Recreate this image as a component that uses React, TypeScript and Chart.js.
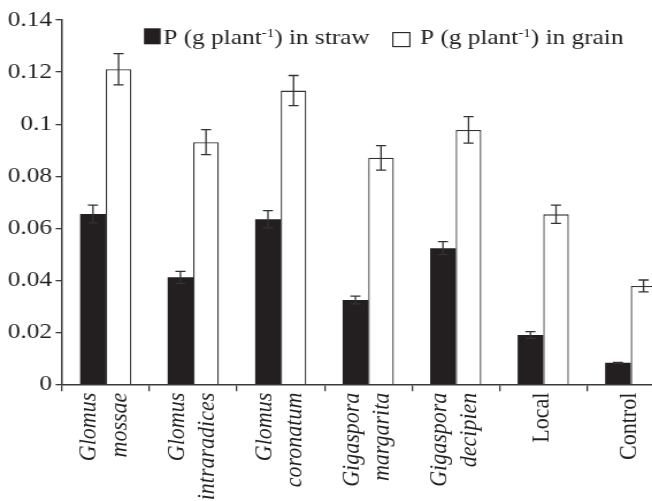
import React, { useEffect, useRef } from "react";
import { Chart, registerables } from "chart.js";

Chart.register(...registerables);

// ---- data ----
const genus = ["Glomus", "Glomus", "Glomus", "Gigaspora", "Gigaspora", "", ""];
const species = ["mossae", "intraradices", "coronatum", "margarita", "decipien", "Local", "Control"];
const seriesLabels = ["P (g plant^-1) in straw", "P (g plant^-1) in grain"];
const straw = [0.0655, 0.0412, 0.0635, 0.0325, 0.0524, 0.0191, 0.0084];
const strawErr = [0.0034, 0.0023, 0.0033, 0.0015, 0.0025, 0.0013, 0.0002];
const grain = [0.1211, 0.0931, 0.1129, 0.0871, 0.0978, 0.0654, 0.0379];
const grainErr = [0.006, 0.0048, 0.0058, 0.0047, 0.0051, 0.0035, 0.0023];
const yTickLabels = ["0", "0.02", "0.04", "0.06", "0.08", "0.1", "0.12", "0.14"];

const SERIF = '"Liberation Serif", "Times New Roman", serif';
const TEXT = "#231f20";
const AXIS = "#3a3a3a";
const errors = [strawErr, grainErr];

const categoryLabels = species.map((s, i) => (genus[i] ? [genus[i], "", s] : ["", s]));

const errorBarPlugin = {
  id: "errorBars",
  afterDatasetsDraw(chart: any) {
    const ctx = chart.ctx;
    const yScale = chart.scales.y;
    ctx.save();
    ctx.strokeStyle = "#333";
    ctx.lineWidth = 1.3;
    chart.data.datasets.forEach((ds: any, di: number) => {
      const meta = chart.getDatasetMeta(di);
      meta.data.forEach((el: any, j: number) => {
        const v = ds.data[j];
        const e = errors[di][j];
        const yt = yScale.getPixelForValue(v + e);
        const yb = yScale.getPixelForValue(v - e);
        const x = el.x;
        const cap = 4.4;
        ctx.beginPath();
        ctx.moveTo(x, yt);
        ctx.lineTo(x, yb);
        ctx.moveTo(x - cap, yt);
        ctx.lineTo(x + cap, yt);
        ctx.moveTo(x - cap, yb);
        ctx.lineTo(x + cap, yb);
        ctx.stroke();
      });
    });
    ctx.restore();
  },
};

const legendPlugin = {
  id: "customLegend",
  afterDraw(chart: any) {
    const ctx = chart.ctx;
    ctx.save();
    ctx.fillStyle = TEXT;
    ctx.strokeStyle = TEXT;
    ctx.textAlign = "left";
    ctx.textBaseline = "alphabetic";
    let x = 125.2;
    const baseline = 44.3;
    chart.data.datasets.forEach((ds: any, i: number) => {
      if (i === 0) {
        ctx.fillRect(x, 28.3, 14.5, 16);
        x += 14.5 + 2.3;
      } else {
        ctx.lineWidth = 1.1;
        ctx.strokeRect(x + 0.5, 32.6, 14.8, 14);
        x += 15.7 + 8.4;
      }
      const [a, b] = String(ds.label).split("^-1");
      ctx.font = `22px ${SERIF}`;
      ctx.fillText(a, x, baseline);
      x += ctx.measureText(a).width;
      ctx.font = `13px ${SERIF}`;
      ctx.fillText("-1", x, baseline - 7.5);
      x += ctx.measureText("-1").width;
      ctx.font = `22px ${SERIF}`;
      ctx.fillText(b, x, baseline);
      x += ctx.measureText(b).width;
      x += 19.6;
    });
    ctx.restore();
  },
};

export default function App() {
  const ref = useRef<HTMLCanvasElement | null>(null);

  useEffect(() => {
    if (!ref.current) return;
    const chart = new Chart(ref.current, {
      type: "bar",
      data: {
        labels: categoryLabels,
        datasets: [
          {
            label: seriesLabels[0],
            data: straw,
            backgroundColor: "#231f20",
            borderWidth: 0,
            categoryPercentage: 0.585,
            barPercentage: 1.0,
          },
          {
            label: seriesLabels[1],
            data: grain,
            backgroundColor: "#ffffff",
            borderColor: "#333333",
            borderWidth: 1.3,
            categoryPercentage: 0.585,
            barPercentage: 1.0,
          },
        ],
      },
      options: {
        animation: false,
        responsive: true,
        maintainAspectRatio: false,
        layout: { padding: { left: 6, top: 20, right: 13.5, bottom: 0 } },
        plugins: {
          legend: { display: false },
          tooltip: { enabled: false },
        },
        scales: {
          x: {
            offset: true,
            grid: {
              display: true,
              drawOnChartArea: false,
              drawTicks: true,
              tickLength: 6.5,
              offset: true,
              color: AXIS,
              lineWidth: 1.3,
            },
            border: { display: true, color: AXIS, width: 1.5 },
            ticks: {
              autoSkip: false,
              minRotation: 90,
              maxRotation: 90,
              padding: 1.5,
              labelOffset: -14.3,
              color: TEXT,
              font: (c: any) => ({
                family: SERIF,
                size: 22,
                style: genus[c.index] ? "italic" : "normal",
                lineHeight: "13.25px",
              }),
            },
            afterFit: (s: any) => {
              s.height = 116.3;
            },
          },
          y: {
            min: 0,
            max: 0.14,
            grid: {
              drawOnChartArea: false,
              drawTicks: true,
              tickLength: 5.5,
              color: AXIS,
              lineWidth: 1.3,
            },
            border: { display: true, color: AXIS, width: 1.5 },
            ticks: {
              stepSize: 0.02,
              padding: 3.2,
              color: TEXT,
              font: { family: SERIF, size: 22 },
              callback: (_v: any, i: number) => yTickLabels[i],
            },
            afterFit: (s: any) => {
              s.width = 47.9;
            },
          },
        },
      },
      plugins: [errorBarPlugin, legendPlugin],
    });
    return () => chart.destroy();
  }, []);

  return (
    <div
      style={{
        position: "fixed",
        left: 0,
        top: 0,
        width: 652,
        height: 501,
        overflow: "hidden",
        background: "#ffffff",
      }}
    >
      <div
        style={{
          width: 600,
          height: 501,
          transform: "scaleX(1.15)",
          transformOrigin: "0 0",
        }}
      >
        <canvas ref={ref} />
      </div>
    </div>
  );
}
